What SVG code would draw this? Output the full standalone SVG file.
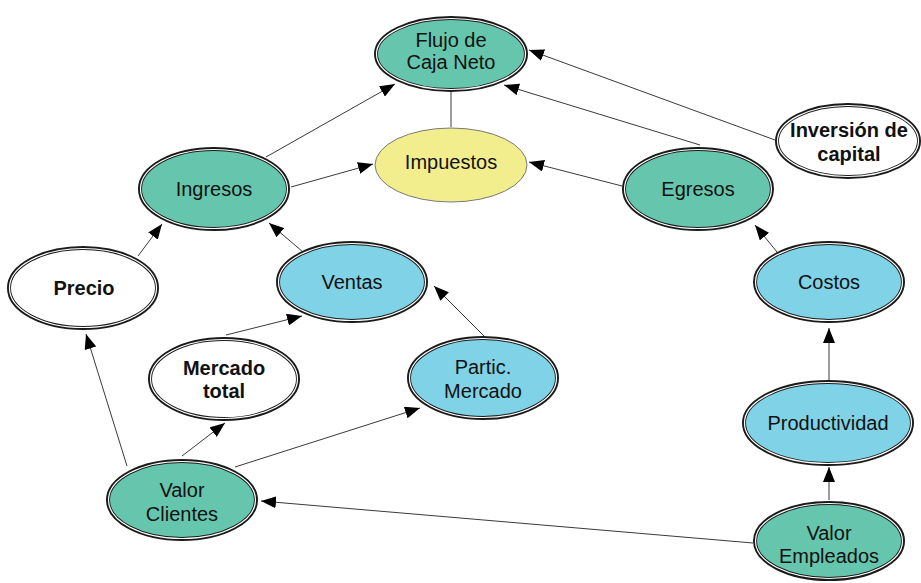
<svg xmlns="http://www.w3.org/2000/svg" width="921" height="583" viewBox="0 0 921 583">
  <style>
    .ring { stroke: #1a1a1a; stroke-width: 4; }
    .gap { fill: none; stroke: #ffffff; stroke-width: 1.2; }
    .teal { fill: #66c6ad; }
    .blue { fill: #80d3e6; }
    .white { fill: #ffffff; }
    .tax { fill: #f2ee8e; stroke: #7a7a7a; stroke-width: 1; }
    text { font-family: "Liberation Sans", Arial, sans-serif; font-size: 20px; fill: #111; text-anchor: middle; }
    text.b { font-weight: bold; font-size: 20px; }
    .edge { stroke: #3a3a3a; stroke-width: 1; fill: none; marker-end: url(#arrow); }
    .plain { stroke: #3a3a3a; stroke-width: 1; fill: none; }
  </style>
  <defs>
    <marker id="arrow" markerUnits="userSpaceOnUse" markerWidth="16" markerHeight="12" refX="15" refY="6" orient="auto">
      <path d="M0,0 L15,6 L0,12 z" fill="#000"/>
    </marker>
  </defs>

  <rect width="921" height="583" fill="#ffffff"/>

  <g id="connectors">
    <line class="plain" x1="451" y1="90" x2="451" y2="127"/>
    <line class="edge" x1="266" y1="157" x2="395" y2="84"/>
    <line class="edge" x1="291" y1="187" x2="373" y2="164"/>
    <line class="edge" x1="303" y1="252" x2="269" y2="223"/>
    <line class="edge" x1="138" y1="256" x2="162" y2="224"/>
    <line class="edge" x1="226" y1="335" x2="302" y2="316"/>
    <line class="edge" x1="484" y1="336" x2="434" y2="286"/>
    <line class="edge" x1="127" y1="466" x2="86" y2="334"/>
    <line class="edge" x1="182" y1="456" x2="225" y2="423"/>
    <line class="edge" x1="235" y1="467" x2="420" y2="408"/>
    <line class="edge" x1="753" y1="543" x2="261" y2="501"/>
    <line class="edge" x1="829" y1="500" x2="829" y2="467"/>
    <line class="edge" x1="829" y1="381" x2="829" y2="328"/>
    <line class="edge" x1="777" y1="252" x2="755" y2="225"/>
    <line class="edge" x1="622" y1="186" x2="529" y2="162"/>
    <line class="edge" x1="700" y1="145" x2="504" y2="85"/>
    <line class="edge" x1="775" y1="140" x2="529" y2="50"/>
  </g>

  <g id="flujo">
    <ellipse class="ring teal" cx="451" cy="54" rx="75" ry="36"/>
    <ellipse class="gap" cx="451" cy="54" rx="74.5" ry="35.5"/>
    <text x="451" y="47">Flujo de</text>
    <text x="451" y="69">Caja Neto</text>
  </g>

  <g id="impuestos">
    <ellipse class="tax" cx="451" cy="165" rx="76" ry="37"/>
    <text x="451" y="169">Impuestos</text>
  </g>

  <g id="ingresos">
    <ellipse class="ring teal" cx="214" cy="189" rx="74" ry="40"/>
    <ellipse class="gap" cx="214" cy="189" rx="73.5" ry="39.5"/>
    <text x="214" y="196">Ingresos</text>
  </g>

  <g id="egresos">
    <ellipse class="ring teal" cx="698" cy="189" rx="74" ry="40"/>
    <ellipse class="gap" cx="698" cy="189" rx="73.5" ry="39.5"/>
    <text x="698" y="196">Egresos</text>
  </g>

  <g id="inversion">
    <ellipse class="ring white" cx="848" cy="141" rx="71" ry="36"/>
    <ellipse class="gap" cx="848" cy="141" rx="70.5" ry="35.5"/>
    <text class="b" x="849" y="137">Inversión de</text>
    <text class="b" x="849" y="161">capital</text>
  </g>

  <g id="precio">
    <ellipse class="ring white" cx="83" cy="288" rx="74" ry="40"/>
    <ellipse class="gap" cx="83" cy="288" rx="73.5" ry="39.5"/>
    <text class="b" x="84" y="295">Precio</text>
  </g>

  <g id="ventas">
    <ellipse class="ring blue" cx="352" cy="282" rx="74" ry="39"/>
    <ellipse class="gap" cx="352" cy="282" rx="73.5" ry="38.5"/>
    <text x="352" y="289">Ventas</text>
  </g>

  <g id="costos">
    <ellipse class="ring blue" cx="829" cy="282" rx="74" ry="39"/>
    <ellipse class="gap" cx="829" cy="282" rx="73.5" ry="38.5"/>
    <text x="829" y="289">Costos</text>
  </g>

  <g id="mercado-total">
    <ellipse class="ring white" cx="224" cy="379" rx="74" ry="40"/>
    <ellipse class="gap" cx="224" cy="379" rx="73.5" ry="39.5"/>
    <text class="b" x="224" y="375">Mercado</text>
    <text class="b" x="224" y="398">total</text>
  </g>

  <g id="partic-mercado">
    <ellipse class="ring blue" cx="483" cy="378" rx="74" ry="40"/>
    <ellipse class="gap" cx="483" cy="378" rx="73.5" ry="39.5"/>
    <text x="483" y="374">Partic.</text>
    <text x="483" y="398">Mercado</text>
  </g>

  <g id="productividad">
    <ellipse class="ring blue" cx="828" cy="423" rx="84" ry="41"/>
    <ellipse class="gap" cx="828" cy="423" rx="83.5" ry="40.5"/>
    <text x="828" y="430">Productividad</text>
  </g>

  <g id="valor-clientes">
    <ellipse class="ring teal" cx="182" cy="500" rx="74" ry="39"/>
    <ellipse class="gap" cx="182" cy="500" rx="73.5" ry="38.5"/>
    <text x="182" y="497">Valor</text>
    <text x="182" y="521">Clientes</text>
  </g>

  <g id="valor-empleados">
    <ellipse class="ring teal" cx="829" cy="541" rx="74" ry="38"/>
    <ellipse class="gap" cx="829" cy="541" rx="73.5" ry="37.5"/>
    <text x="829" y="540">Valor</text>
    <text x="829" y="563">Empleados</text>
  </g>
</svg>
